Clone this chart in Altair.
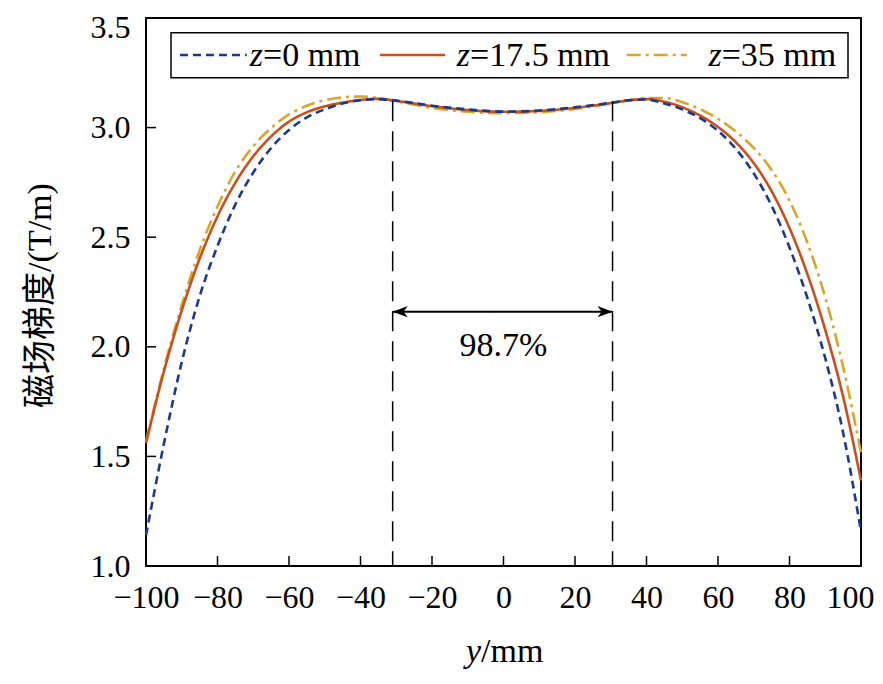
import altair as alt
import pandas as pd

# ---- data ----
y_pos = [-100, -95, -90, -85, -80, -75, -70, -65, -60, -55, -50, -45, -40, -35, -30,
         -20, -10, 0, 10, 20, 30, 35, 40, 45, 50, 55, 60, 65, 70, 75, 80, 85, 90, 95, 100]
grad_z0 = [1.14, 1.557, 1.93, 2.23, 2.46, 2.649, 2.795, 2.907, 2.989, 3.047, 3.083, 3.11, 3.125, 3.13, 3.123,
           3.10, 3.083, 3.073, 3.078, 3.093, 3.113, 3.125, 3.128, 3.11, 3.083, 3.043, 2.985, 2.903, 2.791,
           2.643, 2.453, 2.223, 1.948, 1.608, 1.158]
grad_z175 = [1.56, 1.887, 2.166, 2.402, 2.595, 2.749, 2.869, 2.96, 3.027, 3.07, 3.097, 3.114, 3.126, 3.131, 3.122,
             3.098, 3.08, 3.072, 3.076, 3.09, 3.112, 3.124, 3.13, 3.118, 3.093, 3.055, 3.003, 2.933, 2.838,
             2.71, 2.542, 2.332, 2.077, 1.772, 1.39]
grad_z35 = [1.57, 1.9, 2.19, 2.44, 2.64, 2.8, 2.915, 2.998, 3.06, 3.1, 3.125, 3.138, 3.142, 3.135, 3.12,
            3.09, 3.072, 3.066, 3.07, 3.085, 3.11, 3.125, 3.135, 3.135, 3.116, 3.084, 3.04, 2.982, 2.907,
            2.807, 2.667, 2.475, 2.225, 1.908, 1.515]
series_names = ["z=0 mm", "z=17.5 mm", "z=35 mm"]
legend_z = ["z", "z", "z"]
legend_rest = ["=0 mm", "=17.5 mm", "=35 mm"]
x_ticks = [-100, -80, -60, -40, -20, 0, 20, 40, 60, 80, 100]
y_ticks = [1.0, 1.5, 2.0, 2.5, 3.0, 3.5]
band_x = [-31, 30.5]
band_top = 3.12
arrow_y = 2.16
band_label = "98.7%"
band_label_y = 1.957
y_title = "磁场梯度/(T/m)"
x_title_var = "y"
x_title_unit = "/mm"

rows = []
for name, vals in zip(series_names, [grad_z0, grad_z175, grad_z35]):
    for xv, gv in zip(y_pos, vals):
        rows.append({"pos": xv, "grad": gv, "series": name})
df = pd.DataFrame(rows)

# ---- styles ----
W, H = 715, 548
SERIF = "Liberation Serif"
CJK = "Liberation Serif, Noto Sans CJK SC"
colors = ["#1B3A8C", "#C8501E", "#DAA52B"]
dashes = [[8, 5], [1, 0], [14, 5, 3, 5]]
FS = 34

xs = alt.Scale(domain=[-100, 100], nice=False, zero=False)
ys = alt.Scale(domain=[1.0, 3.5], nice=False, zero=False)

x_axis = alt.Axis(values=x_ticks, title=None, ticks=False, domain=False, grid=False,
                  labelFont=SERIF, labelFontSize=32, labelColor="black", labelPadding=16,
                  labelFlush=False, labelOverlap=False,
                  labelAlign={"condition": {"test": "datum.value >= 100", "value": "right"},
                              "value": "center"},
                  labelOffset={"condition": {"test": "datum.value >= 100", "value": 13},
                               "value": 0})
y_axis = alt.Axis(values=y_ticks, format=".1f", title=y_title, ticks=False, domain=False, grid=False,
                  labelFont=SERIF, labelFontSize=32, labelColor="black", labelPadding=16,
                  labelFlush=False, labelOverlap=False,
                  labelOffset={"condition": {"test": "datum.value >= 3.5", "value": 9},
                               "value": 0},
                  titleFont=CJK, titleFontSize=FS, titleFontWeight="normal", titleColor="black",
                  titleX=-106, titleY=277, titleAngle=270, titleAlign="center",
                  titleBaseline="middle")


def curve(name, color, dash):
    return alt.Chart(df).transform_filter(alt.datum.series == name).mark_line(
        strokeWidth=2.6, interpolate="monotone", color=color, strokeDash=dash
    ).encode(
        x=alt.X("pos:Q", scale=xs, axis=x_axis),
        y=alt.Y("grad:Q", scale=ys, axis=y_axis),
    )


curves = [curve(series_names[i], colors[i], dashes[i]) for i in [2, 1, 0]]

one = pd.DataFrame({"k": [0]})

# inward ticks
xt = alt.Chart(pd.DataFrame({"t": x_ticks})).mark_rule(color="black", strokeWidth=1.5).encode(
    x=alt.X("t:Q", scale=xs, axis=x_axis), y=alt.value(H), y2=alt.value(H - 10))
yt = alt.Chart(pd.DataFrame({"t": y_ticks})).mark_rule(color="black", strokeWidth=1.5).encode(
    y=alt.Y("t:Q", scale=ys, axis=y_axis), x=alt.value(0), x2=alt.value(10))

# band annotation
band_df = pd.DataFrame({"bx": band_x, "top": [band_top] * 2, "bot": [1.0] * 2})
band = alt.Chart(band_df).mark_rule(color="black", strokeWidth=1.5, strokeDash=[20, 10]).encode(
    x=alt.X("bx:Q", scale=xs, axis=x_axis), y=alt.Y("top:Q", scale=ys, axis=y_axis), y2="bot:Q")
arrow_df = pd.DataFrame({"a": [band_x[0]], "b": [band_x[1]], "ay": [arrow_y]})
arrow_line = alt.Chart(arrow_df).mark_rule(color="black", strokeWidth=1.8).encode(
    x=alt.X("a:Q", scale=xs, axis=x_axis), x2="b:Q", y=alt.Y("ay:Q", scale=ys, axis=y_axis))
left_head = alt.Chart(arrow_df).mark_point(
    shape="M0,0 L2,-0.75 L1.45,0 L2,0.75 Z", filled=True, size=225, color="black", opacity=1,
    strokeWidth=0).encode(x=alt.X("a:Q", scale=xs, axis=x_axis), y=alt.Y("ay:Q", scale=ys, axis=y_axis))
right_head = alt.Chart(arrow_df).mark_point(
    shape="M0,0 L-2,-0.75 L-1.45,0 L-2,0.75 Z", filled=True, size=225, color="black", opacity=1,
    strokeWidth=0).encode(x=alt.X("b:Q", scale=xs, axis=x_axis), y=alt.Y("ay:Q", scale=ys, axis=y_axis))
label_df = pd.DataFrame({"lx": [0], "ly": [band_label_y], "txt": [band_label]})
band_text = alt.Chart(label_df).mark_text(font=SERIF, fontSize=FS, color="black", align="center",
                                          baseline="alphabetic").encode(
    x=alt.X("lx:Q", scale=xs, axis=x_axis), y=alt.Y("ly:Q", scale=ys, axis=y_axis), text="txt:N")

# x-axis title with italic variable
xtitle_var = alt.Chart(one).mark_text(font=SERIF, fontSize=FS, fontStyle="italic", color="black",
                                      align="right", baseline="alphabetic").encode(
    x=alt.value(335), y=alt.value(644), text=alt.value(x_title_var))
xtitle_unit = alt.Chart(one).mark_text(font=SERIF, fontSize=FS, color="black",
                                       align="left", baseline="alphabetic").encode(
    x=alt.value(335), y=alt.value(644), text=alt.value(x_title_unit))

# custom legend
legend_box = alt.Chart(one).mark_rect(fill="white", stroke="black", strokeWidth=1.5).encode(
    x=alt.value(25), x2=alt.value(702), y=alt.value(14.7), y2=alt.value(59.7))
sample_pos = [(34, 100.7), (234, 299), (480.7, 540.7)]
text_pos = [117, 324, 575.7]
legend_layers = [legend_box]
for i in range(3):
    legend_layers.append(alt.Chart(one).mark_rule(color=colors[i], strokeWidth=2.6,
                                                  strokeDash=dashes[i]).encode(
        x=alt.value(sample_pos[i][0]), x2=alt.value(sample_pos[i][1]), y=alt.value(37)))
    legend_layers.append(alt.Chart(one).mark_text(font=SERIF, fontSize=FS, fontStyle="italic",
                                                  color="black", align="right",
                                                  baseline="alphabetic").encode(
        x=alt.value(text_pos[i]), y=alt.value(48), text=alt.value(legend_z[i])))
    legend_layers.append(alt.Chart(one).mark_text(font=SERIF, fontSize=FS, color="black",
                                                  align="left", baseline="alphabetic").encode(
        x=alt.value(text_pos[i]), y=alt.value(48), text=alt.value(legend_rest[i])))

chart = alt.layer(
    *curves, xt, yt, band, arrow_line, left_head, right_head, band_text,
    xtitle_var, xtitle_unit, *legend_layers
).properties(
    width=W, height=H,
    autosize=alt.AutoSizeParams(type="none"),
    padding={"left": 138, "top": 10, "right": 14, "bottom": 110},
    background="white",
).configure_view(stroke="black", strokeWidth=2, clip=False)

chart.save("out.html", embed_options={"renderer": "svg", "actions": False})
